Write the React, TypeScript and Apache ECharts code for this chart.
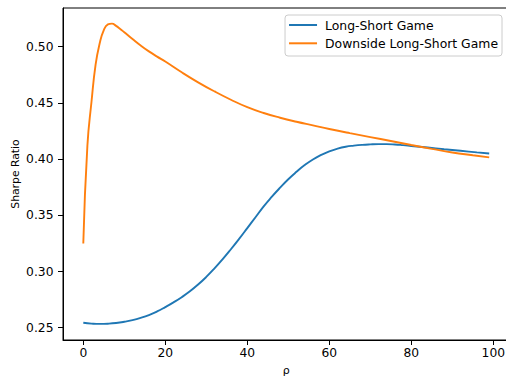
import React, { useEffect, useRef } from "react";
import * as echarts from "echarts";

const xTicks = [0, 20, 40, 60, 80, 100];
const yTicks = [0.25, 0.3, 0.35, 0.4, 0.45, 0.5];

const longShortX = [0, 2, 4, 6, 8, 10, 12, 14, 16, 18, 20, 22, 24, 26, 28, 30, 32, 34, 36, 38, 40, 42, 44, 46, 48, 50, 52, 54, 56, 58, 60, 62, 64, 66, 68, 70, 72, 74, 76, 78, 80, 84, 88, 92, 96, 99];
const longShortY = [0.2544, 0.2537, 0.2534, 0.2536, 0.2542, 0.2553, 0.2568, 0.2588, 0.2613, 0.2645, 0.2684, 0.2726, 0.2772, 0.2824, 0.2884, 0.2952, 0.3028, 0.311, 0.3198, 0.329, 0.3386, 0.3483, 0.358, 0.3666, 0.3746, 0.3821, 0.3887, 0.3947, 0.3997, 0.4037, 0.4069, 0.4093, 0.411, 0.412, 0.4127, 0.4131, 0.4133, 0.4133, 0.413, 0.4124, 0.4117, 0.4103, 0.4088, 0.4074, 0.406, 0.405];

const downsideX = [0, 1, 2, 3, 4, 5, 6, 7, 8, 9, 10, 12, 14, 16, 18, 20, 24, 28, 32, 36, 40, 44, 48, 52, 56, 60, 65, 70, 75, 80, 85, 90, 95, 99];
const downsideY = [0.325, 0.412, 0.451, 0.484, 0.503, 0.5148, 0.5198, 0.5205, 0.5185, 0.5158, 0.5128, 0.5068, 0.501, 0.4958, 0.4912, 0.4868, 0.4772, 0.4683, 0.4602, 0.4528, 0.4462, 0.441, 0.4368, 0.4332, 0.43, 0.4268, 0.4231, 0.4196, 0.4161, 0.4125, 0.4091, 0.4059, 0.4034, 0.4015];

const FONT = "DejaVu Sans";

export default function App() {
  const ref = useRef<HTMLDivElement>(null);
  useEffect(() => {
    if (!ref.current) return;
    const chart = echarts.init(ref.current, undefined, { renderer: "svg" });
    chart.setOption({
      animation: false,
      backgroundColor: "#ffffff",
      grid: {
        left: 63,
        top: 8,
        width: 446.5,
        height: 332,
        containLabel: false,
        outerBoundsMode: "none",
        show: true,
        borderColor: "#000000",
        borderWidth: 1,
        backgroundColor: "transparent",
      },
      xAxis: {
        type: "value",
        min: -4.95,
        max: 103.95,
        name: "ρ",
        nameLocation: "middle",
        nameGap: 25,
        nameMoveOverlap: false,
        nameTextStyle: { fontFamily: FONT, fontSize: 11, color: "#000" },
        axisLine: { show: true, onZero: false, lineStyle: { color: "#000", width: 1 } },
        axisTick: { show: true, inside: false, length: 5, customValues: xTicks, lineStyle: { color: "#000" } },
        axisLabel: {
          customValues: xTicks,
          fontFamily: FONT,
          fontSize: 12.3,
          color: "#000",
          margin: 7,
        },
        splitLine: { show: false },
      },
      yAxis: {
        type: "value",
        min: 0.2391,
        max: 0.5344,
        name: "Sharpe Ratio",
        nameLocation: "middle",
        nameRotate: 90,
        nameGap: 42.5,
        nameMoveOverlap: false,
        nameTextStyle: { fontFamily: FONT, fontSize: 10.8, color: "#000" },
        axisLine: { show: true, onZero: false, lineStyle: { color: "#000", width: 1 } },
        axisTick: { show: true, inside: false, length: 5, customValues: yTicks, lineStyle: { color: "#000" } },
        axisLabel: {
          customValues: yTicks,
          formatter: (v: number) => v.toFixed(2),
          fontFamily: FONT,
          fontSize: 12.3,
          color: "#000",
          margin: 9.5,
        },
        splitLine: { show: false },
      },
      legend: {
        orient: "vertical",
        right: 4,
        top: 15,
        icon: "rect",
        itemWidth: 28,
        itemHeight: 2,
        itemGap: 4.3,
        padding: [3, 4, 5.7, 4],
        borderColor: "#cccccc",
        borderWidth: 1,
        borderRadius: 3,
        backgroundColor: "rgba(255,255,255,0.8)",
        textStyle: {
          fontFamily: FONT,
          fontSize: 12.4,
          color: "#000",
          lineHeight: 14,
          padding: [0, 0, 0, 3],
        },
        data: ["Long-Short Game", "Downside Long-Short Game"],
      },
      series: [
        {
          name: "Long-Short Game",
          type: "line",
          data: longShortX.map((x, i) => [x, longShortY[i]]),
          showSymbol: false,
          symbol: "none",
          smooth: true,
          lineStyle: { color: "#1f77b4", width: 1.9 },
          itemStyle: { color: "#1f77b4" },
        },
        {
          name: "Downside Long-Short Game",
          type: "line",
          data: downsideX.map((x, i) => [x, downsideY[i]]),
          showSymbol: false,
          symbol: "none",
          smooth: true,
          lineStyle: { color: "#ff7f0e", width: 1.9 },
          itemStyle: { color: "#ff7f0e" },
        },
      ],
    });
    return () => chart.dispose();
  }, []);
  return <div ref={ref} style={{ width: 506, height: 377, position: "absolute", left: 0, top: 0 }} />;
}
